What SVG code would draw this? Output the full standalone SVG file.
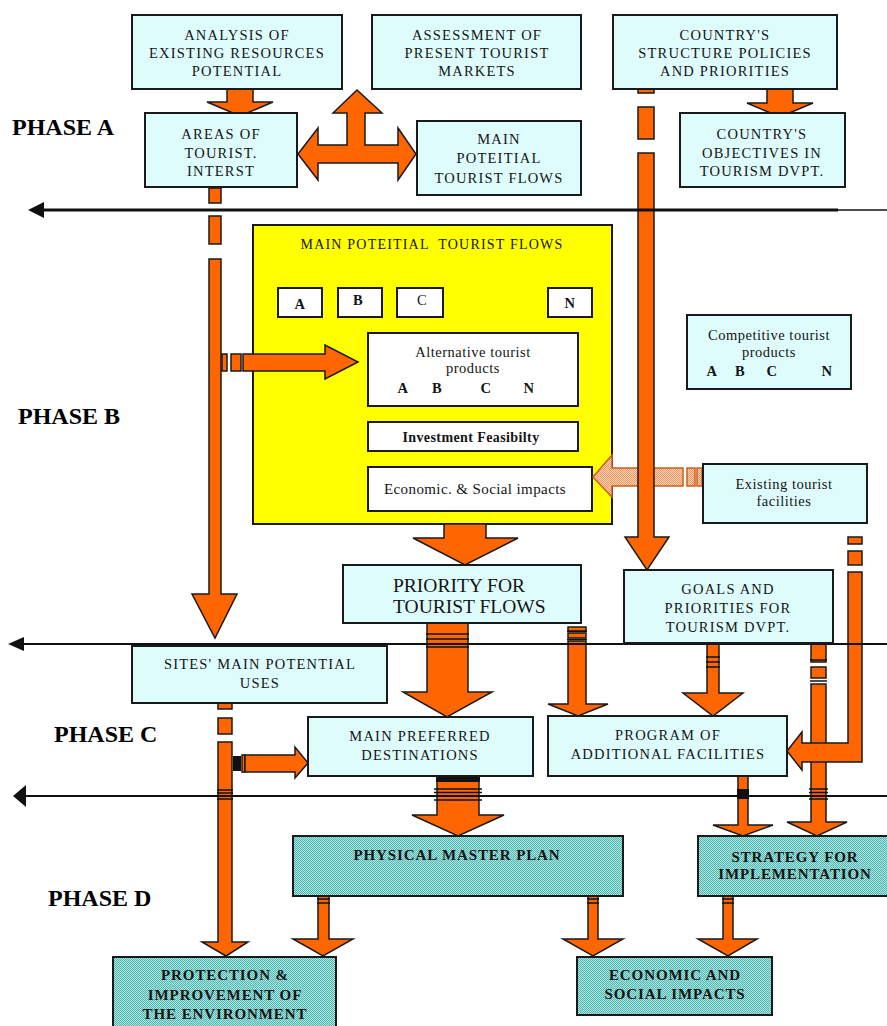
<svg xmlns="http://www.w3.org/2000/svg" width="887" height="1026" viewBox="0 0 887 1026">
  <defs>
    <pattern id="tealHatch" width="2" height="2" patternUnits="userSpaceOnUse">
      <rect width="2" height="2" fill="#A8E3DF"/>
      <rect width="1" height="1" fill="#56B8B3"/>
      <rect x="1" y="1" width="1" height="1" fill="#56B8B3"/>
    </pattern>
    <pattern id="peachHatch" width="2" height="2" patternUnits="userSpaceOnUse">
      <rect width="2" height="2" fill="#FCD6BC"/>
      <rect width="1" height="1" fill="#F2945E"/>
      <rect x="1" y="1" width="1" height="1" fill="#F2945E"/>
    </pattern>
    <style>
      .box { fill: #DFFCFC; stroke: #1a1a1a; stroke-width: 2; }
      .teal { fill: url(#tealHatch); stroke: #1a1a1a; stroke-width: 2; }
      .white { fill: #FFFFFF; stroke: #1a1a1a; stroke-width: 2; }
      .arrow { fill: #FF6600; stroke: #1a1a1a; stroke-width: 1.5; stroke-linejoin: miter; }
      .soft { fill: url(#peachHatch); stroke: #C8601E; stroke-width: 1.5; }
      .band { stroke: #111; stroke-width: 1.6; fill: none; }
      .rule { stroke: #111; fill: none; }
      .head { fill: #111; }
      .t { font-family: "Liberation Serif", "Times New Roman", serif; font-size: 14.5px; letter-spacing: 1.2px; text-anchor: middle; fill: #141414; }
      .m { font-family: "Liberation Serif", "Times New Roman", serif; font-size: 14.5px; letter-spacing: 0.5px; text-anchor: middle; fill: #141414; }
      .b { font-family: "Liberation Serif", "Times New Roman", serif; font-size: 15px; font-weight: bold; letter-spacing: 0.9px; text-anchor: middle; fill: #141414; }
      .phase { font-family: "Liberation Serif", "Times New Roman", serif; font-size: 24px; font-weight: bold; fill: #000; }
    </style>
  </defs>

  <rect width="887" height="1026" fill="#FFFFFF"/>

  <!-- phase labels -->
  <g id="phases">
    <text class="phase" x="12" y="135">PHASE A</text>
    <text class="phase" x="18" y="424">PHASE B</text>
    <text class="phase" x="54" y="742">PHASE C</text>
    <text class="phase" x="48" y="906">PHASE D</text>
  </g>

  <!-- phase B evaluation panel (drawn first so arrows can enter it) -->
  <g id="flows-analysis">
    <rect x="253" y="225" width="359" height="299" fill="#FFFF00" stroke="#1a1a1a" stroke-width="2"/>
    <text class="t" x="432" y="249" style="font-size:14px;letter-spacing:1.2px" xml:space="preserve">MAIN POTEITIAL  TOURIST FLOWS</text>
    <rect class="white" x="278" y="288" width="44" height="29"/>
    <text class="m" x="300" y="309" style="font-weight:bold">A</text>
    <rect class="white" x="338" y="288" width="44" height="29"/>
    <text class="m" x="358" y="305" style="font-weight:bold">B</text>
    <rect class="white" x="397" y="288" width="46" height="29"/>
    <text class="m" x="422" y="305">C</text>
    <rect class="white" x="548" y="288" width="44" height="29"/>
    <text class="m" x="570" y="308" style="font-weight:bold">N</text>
  </g>
  <g id="alternatives">
    <rect class="white" x="368" y="333" width="210" height="73"/>
    <text class="m" x="473" y="357">Alternative tourist</text>
    <text class="m" x="473" y="373">products</text>
    <text class="m" x="403" y="393" style="font-weight:bold">A</text>
    <text class="m" x="437" y="393" style="font-weight:bold">B</text>
    <text class="m" x="486" y="393" style="font-weight:bold">C</text>
    <text class="m" x="529" y="393" style="font-weight:bold">N</text>
  </g>
  <g id="feasibility">
    <rect class="white" x="368" y="422" width="210" height="29"/>
    <text class="m" x="471" y="442" style="font-size:14px;font-weight:bold;letter-spacing:0.4px">Investment Feasibilty</text>
  </g>
  <g id="impacts-b">
    <rect class="white" x="368" y="467" width="224" height="44"/>
    <text class="m" x="475" y="494" style="font-size:15px;letter-spacing:0.4px">Economic. &amp; Social impacts</text>
  </g>

  <!-- flow arrows and phase rules -->
  <g id="connectors">
    <!-- analysis -> areas -->
    <polygon class="arrow" points="227,89 253,89 253,102 273,102 240,116 207,102 227,102"/>
    <!-- structure -> objectives -->
    <polygon class="arrow" points="767,89 793,89 793,103 813,103 780,117 747,103 767,103"/>
    <!-- three-way arrow between areas, markets and flows -->
    <polygon class="arrow" points="298,154 318,128 318,145 347,145 347,113 333,113 357,90 382,113 365,113 365,145 398,145 398,128 416,154 398,180 398,163 318,163 318,180"/>

    <!-- areas -> sites (long dashed stem) -->
    <rect class="arrow" x="209" y="188" width="12" height="15"/>
    <rect class="arrow" x="209" y="216" width="12" height="28"/>
    <polygon class="arrow" points="209,259 221,259 221,594 237,594 215,638 192,594 209,594"/>

    <!-- branch into alternative products -->
    <rect class="arrow" x="222" y="354" width="5" height="17"/>
    <rect class="arrow" x="231" y="354" width="10" height="17"/>
    <polygon class="arrow" points="243,354 325,354 325,345 358,362 325,379 325,371 243,371"/>

    <!-- existing facilities -> impacts -->
    <polygon class="soft" points="683,468 612,468 612,455 593,477 612,497 612,486 683,486"/>
    <rect class="soft" x="687" y="468" width="8" height="18"/>
    <rect class="soft" x="697" y="468" width="5" height="18"/>

    <!-- structure -> goals -->
    <rect class="arrow" x="638" y="89" width="16" height="4"/>
    <rect class="arrow" x="638" y="107" width="16" height="32"/>
    <polygon class="arrow" points="638,153 654,153 654,537 669,537 647,570 625,537 638,537"/>

    <!-- flows panel -> priority -->
    <polygon class="arrow" points="444,524 486,524 486,538 518,538 465,565 413,538 444,538"/>

    <!-- priority -> preferred destinations -->
    <polygon class="arrow" points="427,623 468,623 468,692 492,692 447,717 403,692 427,692"/>

    <!-- priority -> program -->
    <rect class="arrow" x="568" y="627" width="18" height="4"/>
    <rect class="arrow" x="568" y="633" width="18" height="5"/>
    <polygon class="arrow" points="568,641 586,641 586,704 608,704 578,716 548,704 568,704"/>

    <!-- goals -> program -->
    <polygon class="arrow" points="707,643 719,643 719,693 743,693 713,716 683,693 707,693"/>

    <!-- goals -> strategy -->
    <rect class="arrow" x="811" y="643" width="15" height="19"/>
    <rect class="arrow" x="811" y="667" width="15" height="11"/>
    <polygon class="arrow" points="811,684 826,684 826,822 847,822 817,836 787,822 811,822"/>

    <!-- existing facilities -> program -->
    <rect class="arrow" x="848" y="537" width="14" height="7"/>
    <rect class="arrow" x="848" y="551" width="14" height="14"/>
    <polygon class="arrow" points="848,572 862,572 862,762 802,762 802,770 787,751 802,732 802,743 848,743"/>

    <!-- sites -> protection -->
    <rect class="arrow" x="218" y="702" width="14" height="7"/>
    <rect class="arrow" x="218" y="718" width="14" height="16"/>
    <polygon class="arrow" points="218,742 232,742 232,942 248,942 226,956 202,942 218,942"/>

    <!-- sites -> preferred destinations -->
    <rect x="233" y="756" width="8" height="15" fill="#111"/>
    <rect class="arrow" x="242" y="755" width="3" height="17"/>
    <polygon class="arrow" points="245,755 295,755 295,747 308,763 295,778 295,772 245,772"/>

    <!-- preferred destinations -> master plan -->
    <polygon class="arrow" points="437,776 479,776 479,815 504,815 458,836 412,815 437,815"/>

    <!-- program -> strategy -->
    <polygon class="arrow" points="738,776 748,776 748,825 773,825 743,836 713,825 738,825"/>

    <!-- master plan / strategy -> outcomes -->
    <polygon class="arrow" points="318,896 329,896 329,939 353,939 323,956 293,939 318,939"/>
    <polygon class="arrow" points="588,896 598,896 598,939 623,939 593,956 563,939 588,939"/>
    <polygon class="arrow" points="723,896 733,896 733,939 757,939 728,956 698,939 723,939"/>

    <!-- phase rules -->
    <line class="rule" x1="40" y1="210" x2="838" y2="210" stroke-width="3"/>
    <line class="rule" x1="838" y1="210" x2="887" y2="210" stroke-width="1.5"/>
    <polygon class="head" points="28,210 44,202 44,218"/>
    <line class="rule" x1="22" y1="644" x2="887" y2="644" stroke-width="2"/>
    <polygon class="head" points="8,644 24,637 24,651"/>
    <line class="rule" x1="24" y1="796" x2="887" y2="796" stroke-width="2"/>
    <polygon class="head" points="13,796 26,785 26,807"/>

    <!-- crossing bands -->
    <path class="band" d="M426,634 H469 M426,639 H469 M426,647 H469"/>
    <path class="band" d="M567,631.5 H587 M567,639.5 H587"/>
    <path class="band" d="M706,657 H720 M706,662 H720 M706,667 H720"/>
    <path class="band" d="M810,660 H827 M810,681 H827"/>
    <path class="band" d="M217,790 H233 M217,793 H233 M217,799 H233"/>
    <rect x="436" y="776" width="44" height="6" fill="#111"/>
    <path class="band" d="M434,789 H482 M434,792.5 H482 M434,800 H482"/>
    <rect x="737" y="789" width="12" height="10" fill="#111"/>
    <path class="band" d="M809,789 H828 M809,792.5 H828 M809,799 H828"/>
    <path class="band" d="M317,899 H330 M317,903 H330"/>
    <path class="band" d="M587,899 H599 M587,903 H599"/>
    <path class="band" d="M722,899 H734 M722,903 H734"/>
  </g>

  <!-- phase A nodes -->
  <g id="analysis">
    <rect class="box" x="132" y="15" width="210" height="74"/>
    <text class="t" x="237" y="40">ANALYSIS OF</text>
    <text class="t" x="237" y="58">EXISTING RESOURCES</text>
    <text class="t" x="237" y="76">POTENTIAL</text>
  </g>
  <g id="assessment">
    <rect class="box" x="372" y="15" width="209" height="74"/>
    <text class="t" x="477" y="40">ASSESSMENT OF</text>
    <text class="t" x="477" y="58">PRESENT TOURIST</text>
    <text class="t" x="477" y="76">MARKETS</text>
  </g>
  <g id="structure">
    <rect class="box" x="613" y="15" width="224" height="74"/>
    <text class="t" x="725" y="40">COUNTRY'S</text>
    <text class="t" x="725" y="58">STRUCTURE POLICIES</text>
    <text class="t" x="725" y="76">AND PRIORITIES</text>
  </g>
  <g id="areas">
    <rect class="box" x="145" y="113" width="152" height="74"/>
    <text class="t" x="221" y="139">AREAS OF</text>
    <text class="t" x="221" y="158">TOURIST.</text>
    <text class="t" x="221" y="176">INTERST</text>
  </g>
  <g id="flows">
    <rect class="box" x="417" y="121" width="164" height="74"/>
    <text class="t" x="499" y="144">MAIN</text>
    <text class="t" x="499" y="163">POTEITIAL</text>
    <text class="t" x="499" y="183">TOURIST FLOWS</text>
  </g>
  <g id="objectives">
    <rect class="box" x="680" y="113" width="165" height="74"/>
    <text class="t" x="762" y="139">COUNTRY'S</text>
    <text class="t" x="762" y="158">OBJECTIVES IN</text>
    <text class="t" x="762" y="176">TOURISM DVPT.</text>
  </g>

  <!-- phase B nodes -->
  <g id="competitive">
    <rect class="box" x="687" y="315" width="164" height="74"/>
    <text class="m" x="769" y="340">Competitive tourist</text>
    <text class="m" x="769" y="357">products</text>
    <text class="m" x="712" y="376" style="font-weight:bold">A</text>
    <text class="m" x="740" y="376" style="font-weight:bold">B</text>
    <text class="m" x="772" y="376" style="font-weight:bold">C</text>
    <text class="m" x="827" y="376" style="font-weight:bold">N</text>
  </g>
  <g id="existing">
    <rect class="box" x="703" y="464" width="164" height="59"/>
    <text class="m" x="784" y="489">Existing tourist</text>
    <text class="m" x="784" y="506">facilities</text>
  </g>
  <g id="priority">
    <rect class="box" x="343" y="565" width="238" height="58"/>
    <text x="393" y="592" style="font-family:'Liberation Serif','Times New Roman',serif;font-size:19.5px;fill:#141414">PRIORITY FOR</text>
    <text x="393" y="613" style="font-family:'Liberation Serif','Times New Roman',serif;font-size:19.5px;fill:#141414">TOURIST FLOWS</text>
  </g>
  <g id="goals">
    <rect class="box" x="624" y="570" width="209" height="73"/>
    <text class="t" x="728" y="594">GOALS AND</text>
    <text class="t" x="728" y="613">PRIORITIES FOR</text>
    <text class="t" x="728" y="632">TOURISM DVPT.</text>
  </g>

  <!-- phase C nodes -->
  <g id="sites">
    <rect class="box" x="132" y="646" width="255" height="57"/>
    <text class="t" x="260" y="669">SITES' MAIN POTENTIAL</text>
    <text class="t" x="260" y="688">USES</text>
  </g>
  <g id="destinations">
    <rect class="box" x="308" y="717" width="225" height="59"/>
    <text class="t" x="420" y="741">MAIN PREFERRED</text>
    <text class="t" x="420" y="760">DESTINATIONS</text>
  </g>
  <g id="program">
    <rect class="box" x="548" y="716" width="239" height="60"/>
    <text class="t" x="668" y="740">PROGRAM OF</text>
    <text class="t" x="668" y="759">ADDITIONAL FACILITIES</text>
  </g>

  <!-- phase D nodes -->
  <g id="master-plan">
    <rect class="teal" x="293" y="836" width="330" height="60"/>
    <text class="b" x="457" y="860">PHYSICAL MASTER PLAN</text>
  </g>
  <g id="strategy">
    <rect class="teal" x="698" y="836" width="190" height="60"/>
    <text class="b" x="795" y="862">STRATEGY FOR</text>
    <text class="b" x="795" y="879">IMPLEMENTATION</text>
  </g>
  <g id="protection">
    <rect class="teal" x="113" y="957" width="223" height="72"/>
    <text class="b" x="225" y="980">PROTECTION &amp;</text>
    <text class="b" x="225" y="1000">IMPROVEMENT OF</text>
    <text class="b" x="225" y="1019">THE ENVIRONMENT</text>
  </g>
  <g id="economic">
    <rect class="teal" x="577" y="957" width="195" height="58"/>
    <text class="b" x="675" y="980">ECONOMIC AND</text>
    <text class="b" x="675" y="999">SOCIAL IMPACTS</text>
  </g>
</svg>
